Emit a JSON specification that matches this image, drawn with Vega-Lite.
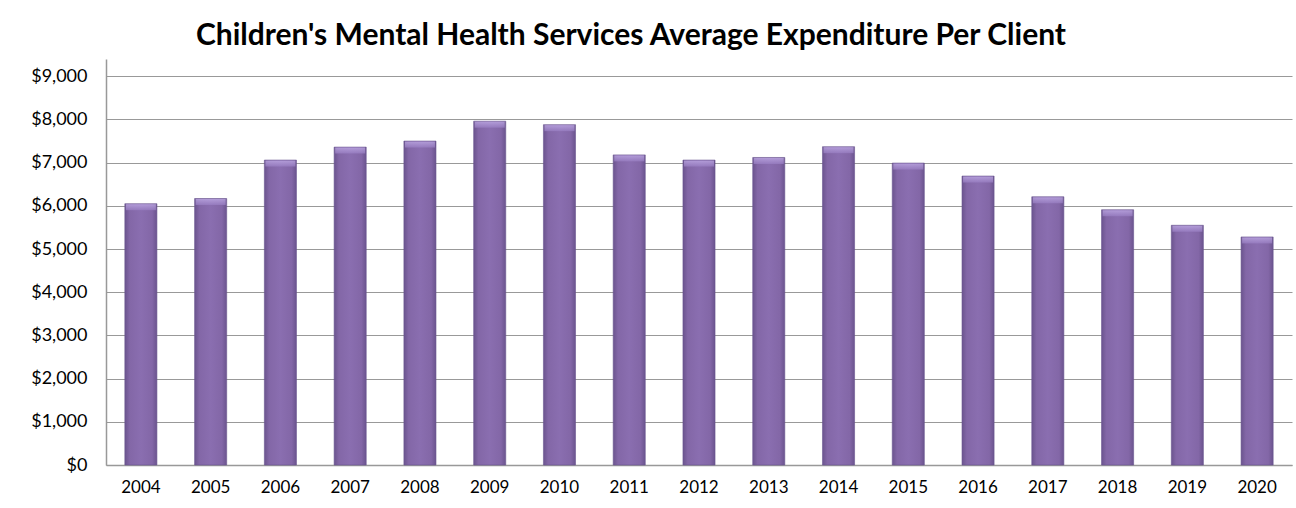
{
  "$schema": "https://vega.github.io/schema/vega-lite/v6.json",
  "autosize": {"type": "none"},
  "width": 1186,
  "height": 406,
  "padding": {"left": 106, "top": 59, "right": 4, "bottom": 43},
  "background": "white",
  "title": {
    "text": "Children's Mental Health Services Average Expenditure Per Client",
    "font": "Lato",
    "fontSize": 30,
    "fontWeight": "bold",
    "color": "#000000",
    "anchor": "middle",
    "dx": -68,
    "baseline": "alphabetic",
    "offset": -16
  },
  "data": {
    "values": [
      {"year": "2004", "expenditure": 6050},
      {"year": "2005", "expenditure": 6170},
      {"year": "2006", "expenditure": 7060},
      {"year": "2007", "expenditure": 7360},
      {"year": "2008", "expenditure": 7500},
      {"year": "2009", "expenditure": 7960},
      {"year": "2010", "expenditure": 7880},
      {"year": "2011", "expenditure": 7180},
      {"year": "2012", "expenditure": 7060},
      {"year": "2013", "expenditure": 7120},
      {"year": "2014", "expenditure": 7370},
      {"year": "2015", "expenditure": 6990},
      {"year": "2016", "expenditure": 6690},
      {"year": "2017", "expenditure": 6210},
      {"year": "2018", "expenditure": 5910},
      {"year": "2019", "expenditure": 5550},
      {"year": "2020", "expenditure": 5280}
    ]
  },
  "encoding": {
    "x": {
      "field": "year",
      "type": "nominal",
      "sort": null,
      "title": null,
      "scale": {"paddingInner": 0.54, "paddingOuter": 0.27},
      "axis": {
        "labelAngle": 0,
        "labelFont": "Lato",
        "labelFontSize": 17,
        "labelColor": "#000000",
        "labelPadding": 14,
        "ticks": false,
        "domainColor": "#999999",
        "domainWidth": 1.5,
        "grid": false
      }
    },
    "y": {
      "field": "expenditure",
      "type": "quantitative",
      "title": null,
      "scale": {"domain": [0, 9400], "nice": false},
      "axis": {
        "values": [0, 1000, 2000, 3000, 4000, 5000, 6000, 7000, 8000, 9000],
        "format": "$,.0f",
        "labelFont": "Lato",
        "labelFontSize": 18,
        "labelColor": "#000000",
        "labelPadding": 19,
        "ticks": false,
        "domainColor": "#999999",
        "domainWidth": 1.5,
        "grid": true,
        "gridColor": "#999999",
        "gridWidth": 1.2
      }
    }
  },
  "layer": [
    {
      "mark": {
        "type": "bar",
        "stroke": "#6a5590",
        "strokeWidth": 0.6,
        "color": {
          "gradient": "linear",
          "x1": 0, "y1": 0, "x2": 1, "y2": 0,
          "stops": [
            {"offset": 0, "color": "#6b548e"},
            {"offset": 0.15, "color": "#8367a7"},
            {"offset": 0.5, "color": "#8a6eb0"},
            {"offset": 0.85, "color": "#8367a7"},
            {"offset": 1, "color": "#6b548e"}
          ]
        }
      }
    },
    {
      "mark": {
        "type": "tick",
        "orient": "horizontal",
        "thickness": 6,
        "size": 30,
        "yOffset": 3.5,
        "color": {
          "gradient": "linear",
          "x1": 0, "y1": 0, "x2": 0, "y2": 1,
          "stops": [
            {"offset": 0, "color": "#c4b0ea"},
            {"offset": 1, "color": "#9a80c4"}
          ]
        }
      }
    }
  ],
  "config": {
    "view": {"stroke": null}
  }
}
